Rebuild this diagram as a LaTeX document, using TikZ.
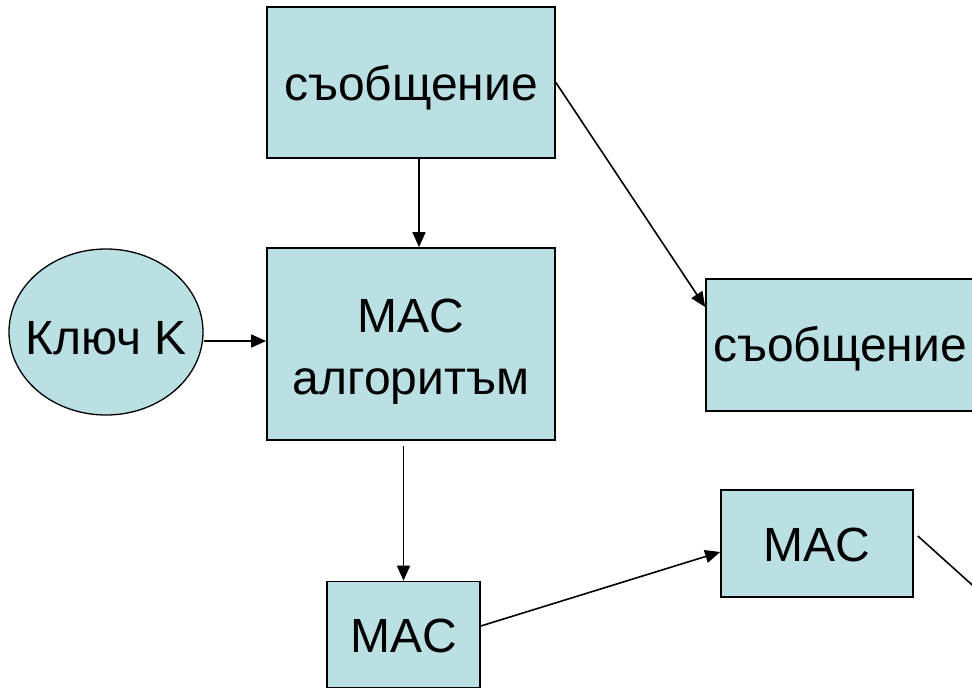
\documentclass[tikz,border=0pt]{standalone}
\usepackage{fontspec}
\setmainfont{Liberation Sans}
\usetikzlibrary{arrows.meta,shapes.geometric}
\definecolor{boxfill}{RGB}{186,224,227}
\tikzset{
  box/.style={draw=black, fill=boxfill, line width=1.7pt, rectangle, inner sep=0pt},
  txt/.style={inner sep=0pt, font=\fontsize{48}{62}\selectfont, align=center},
  keyshape/.style={draw=black, fill=boxfill, line width=1.3pt, ellipse, inner sep=0pt},
  arr/.style={line width=1.6pt, -{Triangle[length=15pt,width=13pt]}},
  plain/.style={line width=1.6pt}
}
\begin{document}
\begin{tikzpicture}[x=1pt,y=-1pt]
\useasboundingbox (0,0) rectangle (972,688);
\clip (0,0) rectangle (972,688);
\node[box, minimum width=288pt, minimum height=151pt] (msg1) at (411,82.5) {};
\node[txt] (msg1t) at ([yshift=-5pt]msg1.center) {съобщение};
\node[box, minimum width=288pt, minimum height=192pt] (alg) at (411,344) {};
\node[txt] (algt) at ([yshift=-8pt]alg.center) {MAC\\алгоритъм};
\node[keyshape, minimum width=194pt, minimum height=166pt] (key) at (106,332) {};
\node[txt] (keyt) at (106,338) {Ключ K};
\node[box, minimum width=268pt, minimum height=132pt] (msg2) at (840,345) {};
\node[txt] (msg2t) at ([yshift=-4pt]msg2.center) {съобщение};
\node[box, minimum width=192pt, minimum height=107pt] (mac2) at (817,543.5) {};
\node[txt] (mac2t) at ([yshift=-1pt]mac2.center) {MAC};
\node[box, minimum width=153pt, minimum height=106pt] (mac1) at (403.5,634.5) {};
\node[txt] (mac1t) at ([yshift=-1pt]mac1.center) {MAC};
\coordinate (offend) at (1000,610);
\draw[arr] ([xshift=8pt]msg1.south) -- ([xshift=8pt]alg.north);
\draw[arr] ([yshift=-9pt]key.east) -- ([yshift=-9pt]key.east -| alg.west);
\draw[arr] ([yshift=-5pt]alg.south -| mac1.north) -- (mac1.north);
\draw[arr] (msg1.east) -- ([yshift=38pt]msg2.west);
\draw[arr] ([yshift=8.5pt]mac1.east) -- ([yshift=-8.5pt]mac2.west);
\draw[plain] ([xshift=4pt,yshift=7.5pt]mac2.east) -- (offend);
\end{tikzpicture}
\end{document}
